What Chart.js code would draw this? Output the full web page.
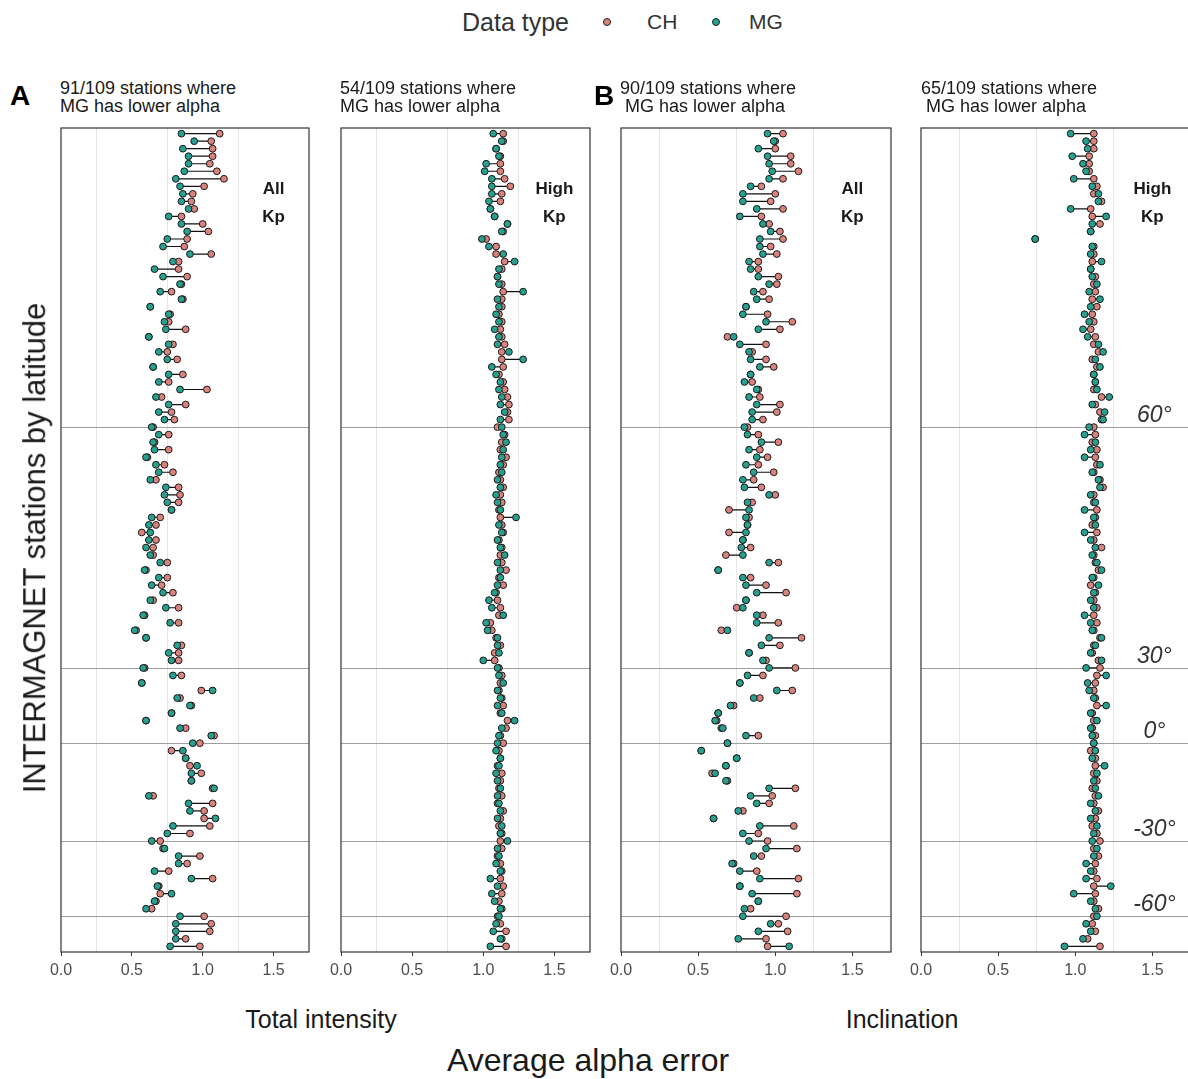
<!DOCTYPE html>
<html>
<head>
<meta charset="utf-8">
<title>Average alpha error by station</title>
<script src="https://cdn.jsdelivr.net/npm/chart.js@4"></script>
<style>
  html, body { margin: 0; padding: 0; background: #fff; overflow: hidden; }
  body { width: 1188px; height: 1079px; position: relative; font-family: Arial, "Liberation Sans", sans-serif; }
  canvas { position: absolute; }
  .t { position: absolute; white-space: pre; color: #1a1a1a; line-height: 1.15; }
  .dot { position: absolute; width: 6px; height: 6px; border-radius: 50%; border: 1px solid #222; }
</style>
</head>
<body>
<script>
// stations are ordered by latitude, row 0 = northernmost
const latRows = [39, 71, 81, 94, 104];
const latLabels = ['60°', '30°', '0°', '-30°', '-60°'];
const xTicks = [0, 0.5, 1, 1.5];

// A: total intensity, all Kp
const chIntAll = [1.12,1.06,1.07,1.07,1.05,1.10,1.15,1.01,0.93,0.92,
  0.94,0.85,1.00,1.04,0.89,0.87,1.06,0.83,0.83,0.89,
  0.85,0.78,0.86,0.63,0.77,0.76,0.88,0.62,0.79,0.75,
  0.82,0.65,0.86,0.76,1.03,0.71,0.88,0.78,0.80,0.65,
  0.76,0.66,0.76,0.61,0.73,0.79,0.67,0.83,0.84,0.83,
  0.78,0.70,0.67,0.57,0.67,0.65,0.65,0.75,0.60,0.75,
  0.71,0.79,0.65,0.83,0.59,0.83,0.53,0.60,0.85,0.83,
  0.83,0.59,0.85,0.57,0.99,0.84,0.92,0.78,0.60,0.88,
  1.08,0.98,0.78,0.88,0.91,0.99,0.92,1.07,0.65,1.07,
  1.01,1.01,1.05,0.91,0.70,0.72,0.98,0.89,0.76,1.07,
  0.69,0.70,0.67,0.64,1.01,1.06,1.05,0.88,0.98];
const mgIntAll = [0.85,0.94,0.86,0.90,0.90,0.87,0.81,0.84,0.86,0.85,
  0.90,0.76,0.85,0.89,0.75,0.72,0.91,0.79,0.66,0.72,
  0.84,0.70,0.85,0.63,0.76,0.73,0.74,0.62,0.76,0.69,
  0.75,0.65,0.76,0.69,0.84,0.67,0.76,0.69,0.73,0.64,
  0.69,0.65,0.66,0.60,0.67,0.69,0.63,0.74,0.73,0.75,
  0.78,0.64,0.62,0.63,0.62,0.60,0.63,0.70,0.59,0.69,
  0.64,0.72,0.63,0.74,0.58,0.77,0.52,0.60,0.82,0.76,
  0.78,0.58,0.79,0.57,1.07,0.82,0.91,0.78,0.60,0.84,
  1.06,0.93,0.86,0.88,0.96,0.92,0.92,1.08,0.62,0.90,
  0.91,1.09,0.79,0.75,0.64,0.73,0.83,0.83,0.66,0.92,
  0.68,0.78,0.66,0.60,0.84,0.81,0.81,0.81,0.77];

// total intensity, high Kp
const chIntHigh = [1.14,1.14,1.09,1.12,1.12,1.12,1.15,1.19,1.13,1.12,
  1.05,1.08,1.17,1.14,1.02,1.09,1.09,1.15,1.13,1.10,
  1.13,1.14,1.13,1.13,1.11,1.13,1.12,1.13,1.15,1.13,
  1.13,1.14,1.11,1.14,1.15,1.17,1.18,1.17,1.18,1.10,
  1.15,1.13,1.12,1.16,1.14,1.11,1.12,1.14,1.12,1.13,
  1.11,1.12,1.13,1.14,1.11,1.13,1.12,1.13,1.16,1.11,
  1.14,1.09,1.10,1.12,1.11,1.05,1.06,1.09,1.12,1.08,
  1.08,1.11,1.13,1.12,1.11,1.13,1.14,1.12,1.17,1.16,
  1.12,1.14,1.11,1.12,1.10,1.13,1.12,1.11,1.13,1.10,
  1.14,1.12,1.11,1.13,1.12,1.13,1.10,1.12,1.13,1.12,
  1.14,1.13,1.11,1.13,1.10,1.12,1.16,1.13,1.16];
const mgIntHigh = [1.07,1.13,1.09,1.11,1.02,1.01,1.06,1.06,1.06,1.04,
  1.05,1.08,1.17,1.13,0.99,1.04,1.14,1.22,1.11,1.10,
  1.11,1.28,1.10,1.11,1.09,1.11,1.08,1.11,1.10,1.18,
  1.28,1.06,1.09,1.12,1.11,1.13,1.12,1.15,1.12,1.13,
  1.14,1.16,1.14,1.13,1.12,1.13,1.10,1.12,1.09,1.10,
  1.12,1.23,1.11,1.13,1.10,1.12,1.15,1.10,1.12,1.12,
  1.10,1.08,1.04,1.06,1.14,1.02,1.03,1.10,1.10,1.11,
  1.00,1.10,1.11,1.14,1.10,1.12,1.10,1.13,1.22,1.13,
  1.11,1.10,1.09,1.12,1.11,1.09,1.10,1.12,1.10,1.11,
  1.12,1.10,1.13,1.12,1.17,1.10,1.11,1.09,1.12,1.05,
  1.10,1.06,1.08,1.12,1.11,1.09,1.07,1.12,1.05];

// B: inclination, all Kp
const chIncAll = [1.05,1.00,1.00,1.10,1.10,1.15,1.05,0.91,1.00,0.97,
  1.05,0.91,0.96,1.03,1.05,0.97,1.01,0.89,0.89,1.02,
  1.01,0.92,0.96,0.81,0.95,1.11,1.03,0.69,0.94,0.85,
  0.94,0.99,0.84,0.85,0.89,0.90,1.03,1.01,0.92,0.82,
  0.89,1.02,0.90,0.95,0.89,0.99,0.86,0.91,1.00,0.85,
  0.70,0.83,0.82,0.70,0.79,0.84,0.68,1.02,0.63,0.84,
  0.94,1.07,0.81,0.75,0.92,1.02,0.65,1.17,1.03,0.83,
  0.94,1.13,0.92,0.77,1.11,0.90,0.73,0.63,0.62,0.65,
  0.89,0.69,0.52,0.75,0.68,0.59,0.69,1.13,0.98,0.96,
  0.79,0.60,1.12,0.89,0.95,1.14,0.91,0.73,0.88,1.15,
  0.77,1.14,0.89,0.84,1.07,1.02,1.08,0.94,0.95];
const mgIncAll = [0.95,0.99,0.89,0.95,0.96,0.98,0.96,0.84,0.79,0.79,
  0.88,0.77,0.92,0.97,0.90,0.90,0.92,0.83,0.84,0.89,
  0.96,0.86,0.88,0.81,0.79,0.94,0.89,0.73,0.77,0.83,
  0.84,0.90,0.84,0.80,0.88,0.83,0.88,0.85,0.85,0.80,
  0.82,0.91,0.83,0.88,0.81,0.86,0.79,0.80,0.96,0.82,
  0.83,0.81,0.82,0.81,0.79,0.78,0.79,0.96,0.63,0.79,
  0.81,0.88,0.81,0.79,0.88,0.88,0.69,0.96,0.91,0.83,
  0.92,0.96,0.82,0.77,1.01,0.86,0.71,0.63,0.61,0.66,
  0.81,0.69,0.52,0.75,0.68,0.61,0.68,0.96,0.84,0.88,
  0.76,0.60,0.90,0.79,0.83,0.94,0.86,0.72,0.77,0.90,
  0.77,0.85,0.89,0.80,0.79,0.97,0.89,0.76,1.09];

// inclination, high Kp
const chIncHigh = [1.12,1.12,1.12,1.09,1.09,1.09,1.12,1.14,1.12,1.17,
  1.10,1.11,1.16,1.10,0.74,1.12,1.12,1.11,1.10,1.13,
  1.12,1.13,1.11,1.14,1.11,1.12,1.10,1.13,1.12,1.15,
  1.11,1.14,1.12,1.13,1.12,1.17,1.13,1.16,1.17,1.12,
  1.13,1.11,1.14,1.13,1.14,1.12,1.16,1.18,1.12,1.12,
  1.14,1.13,1.11,1.14,1.12,1.17,1.12,1.13,1.15,1.12,
  1.10,1.13,1.12,1.14,1.12,1.14,1.12,1.16,1.12,1.11,
  1.15,1.16,1.14,1.13,1.12,1.13,1.14,1.11,1.12,1.11,
  1.13,1.12,1.10,1.13,1.13,1.12,1.14,1.11,1.13,1.12,
  1.15,1.13,1.11,1.14,1.16,1.12,1.15,1.13,1.12,1.14,
  1.12,1.13,1.12,1.15,1.12,1.11,1.13,1.08,1.16];
const mgIncHigh = [0.97,1.07,1.08,0.98,1.05,1.07,0.99,1.11,1.15,1.15,
  0.97,1.20,1.11,1.10,0.74,1.11,1.10,1.17,1.10,1.11,
  1.14,1.09,1.16,1.10,1.06,1.09,1.05,1.08,1.15,1.18,
  1.13,1.16,1.12,1.13,1.14,1.22,1.11,1.19,1.18,1.09,
  1.06,1.13,1.10,1.06,1.16,1.11,1.15,1.16,1.10,1.13,
  1.06,1.12,1.13,1.06,1.10,1.13,1.11,1.14,1.17,1.11,
  1.15,1.12,1.10,1.12,1.06,1.10,1.11,1.17,1.13,1.10,
  1.17,1.07,1.20,1.08,1.09,1.12,1.20,1.10,1.14,1.10,
  1.11,1.12,1.13,1.11,1.19,1.14,1.12,1.13,1.15,1.10,
  1.13,1.10,1.14,1.12,1.11,1.14,1.12,1.07,1.10,1.07,
  1.23,0.99,1.10,1.13,1.14,1.07,1.10,1.05,0.93];

const CH_COL = '#d9837c';
const MG_COL = '#27a090';
const FONT = 'Arial, "Liberation Sans", sans-serif';
const CANVAS_TOP = 120;

function addText(str, x, y, o) {
  o = o || {};
  const d = document.createElement('div');
  d.className = 't';
  d.textContent = str;
  d.style.left = x + 'px';
  d.style.top = y + 'px';
  d.style.fontSize = (o.size || 16) + 'px';
  if (o.bold) d.style.fontWeight = 'bold';
  if (o.italic) d.style.fontStyle = 'italic';
  if (o.color) d.style.color = o.color;
  const tx = o.align === 'center' ? '-50%' : '0';
  d.style.transform = 'translate(' + tx + ',-50%)' + (o.rotate ? ' rotate(' + o.rotate + 'deg)' : '');
  document.body.appendChild(d);
  return d;
}

const panelDecor = {
  id: 'panelDecor',
  beforeDatasetsDraw(chart) {
    const { ctx, chartArea: a, scales: { y } } = chart;
    ctx.save();
    ctx.strokeStyle = '#9e9e9e';
    ctx.lineWidth = 1;
    latRows.forEach(r => {
      const py = Math.round(y.getPixelForValue(r)) + 0.5;
      ctx.beginPath();
      ctx.moveTo(a.left, py);
      ctx.lineTo(a.right, py);
      ctx.stroke();
    });
    ctx.restore();
  },
  afterDraw(chart) {
    const { ctx, chartArea: a } = chart;
    ctx.save();
    ctx.strokeStyle = '#333';
    ctx.lineWidth = 1.2;
    ctx.strokeRect(a.left, a.top, a.right - a.left, a.bottom - a.top);
    ctx.restore();
  }
};

function makePanel(left, width, ch, mg, kp, withLat) {
  const cv = document.createElement('canvas');
  const padX = 20;
  cv.width = width + 2 * padX;
  cv.height = 870;
  cv.style.left = (left - padX) + 'px';
  cv.style.top = CANVAS_TOP + 'px';
  document.body.appendChild(cv);

  const segs = [];
  ch.forEach((v, i) => {
    segs.push({ x: v, y: i }, { x: mg[i], y: i }, { x: null, y: null });
  });

  const chart = new Chart(cv.getContext('2d'), {
    type: 'scatter',
    data: {
      datasets: [
        { data: segs, showLine: true, spanGaps: false, borderColor: '#111', borderWidth: 1.2, pointRadius: 0, order: 3 },
        { label: 'CH', data: ch.map((v, i) => ({ x: v, y: i })), backgroundColor: CH_COL, borderColor: '#1a1a1a', borderWidth: 1, pointRadius: 3.4, order: 2 },
        { label: 'MG', data: mg.map((v, i) => ({ x: v, y: i })), backgroundColor: MG_COL, borderColor: '#1a1a1a', borderWidth: 1, pointRadius: 3.4, order: 1 }
      ]
    },
    options: {
      responsive: false,
      animation: false,
      events: [],
      layout: { padding: { left: padX, right: padX, top: 8, bottom: 0 } },
      plugins: { legend: { display: false }, tooltip: { enabled: false } },
      scales: {
        x: {
          type: 'linear', min: 0, max: 1.75,
          afterFit: s => { s.height = 38; },
          border: { display: false },
          grid: {
            color: c => (Math.round(c.tick.value * 4) % 2 === 1 && c.tick.value < 1.75) ? '#e6e6e6' : 'rgba(0,0,0,0)',
            tickColor: c => xTicks.includes(c.tick.value) ? '#333' : 'rgba(0,0,0,0)',
            tickLength: 4,
            lineWidth: 1
          },
          ticks: {
            stepSize: 0.25, autoSkip: false, maxRotation: 0, padding: 5,
            color: '#4d4d4d', font: { family: FONT, size: 16 },
            callback: v => xTicks.includes(v) ? v.toFixed(1) : ''
          }
        },
        y: { type: 'linear', reverse: true, min: -0.75, max: 108.75, display: false }
      }
    },
    plugins: [panelDecor]
  });

  // in-panel annotations placed through the chart's own scales
  const sx = chart.scales.x, sy = chart.scales.y;
  const cx = left - padX + sx.getPixelForValue(1.5);
  addText(kp, cx, CANVAS_TOP + sy.getPixelForValue(7.4), { size: 17, bold: true, align: 'center' });
  addText('Kp', cx, CANVAS_TOP + sy.getPixelForValue(11.1), { size: 17, bold: true, align: 'center' });
  if (withLat) {
    latRows.forEach((r, k) => {
      addText(latLabels[k], cx + 2, CANVAS_TOP + sy.getPixelForValue(r) - 13, { size: 23, italic: true, align: 'center', color: '#333' });
    });
  }
  return chart;
}

makePanel(61, 248, chIntAll, mgIntAll, 'All', false);
makePanel(341, 249, chIntHigh, mgIntHigh, 'High', false);
makePanel(621, 270, chIncAll, mgIncAll, 'All', false);
makePanel(921, 270, chIncHigh, mgIncHigh, 'High', true);

// legend
addText('Data type', 462, 22, { size: 25, color: '#333' });
function legendDot(x, col) {
  const d = document.createElement('div');
  d.className = 'dot';
  d.style.left = (x - 4) + 'px';
  d.style.top = (22 - 4) + 'px';
  d.style.background = col;
  document.body.appendChild(d);
}
legendDot(607, CH_COL);
addText('CH', 647, 22, { size: 21, color: '#333' });
legendDot(716, MG_COL);
addText('MG', 749, 22, { size: 21, color: '#333' });

// panel tags and subtitles
addText('A', 10, 96, { size: 28, bold: true, color: '#000' });
addText('B', 594, 96, { size: 28, bold: true, color: '#000' });
addText('91/109 stations where', 60, 88, { size: 18 });
addText('MG has lower alpha', 60, 106, { size: 18 });
addText('54/109 stations where', 340, 88, { size: 18 });
addText('MG has lower alpha', 340, 106, { size: 18 });
addText('90/109 stations where', 620, 88, { size: 18 });
addText(' MG has lower alpha', 620, 106, { size: 18 });
addText('65/109 stations where', 921, 88, { size: 18 });
addText(' MG has lower alpha', 921, 106, { size: 18 });

// axis titles
addText('Total intensity', 321, 1019, { size: 25, align: 'center' });
addText('Inclination', 902, 1019, { size: 25, align: 'center' });
addText('Average alpha error', 588, 1060, { size: 32, align: 'center' });
addText('INTERMAGNET stations by latitude', 35, 548, { size: 31, align: 'center', rotate: -90 });
</script>
</body>
</html>
